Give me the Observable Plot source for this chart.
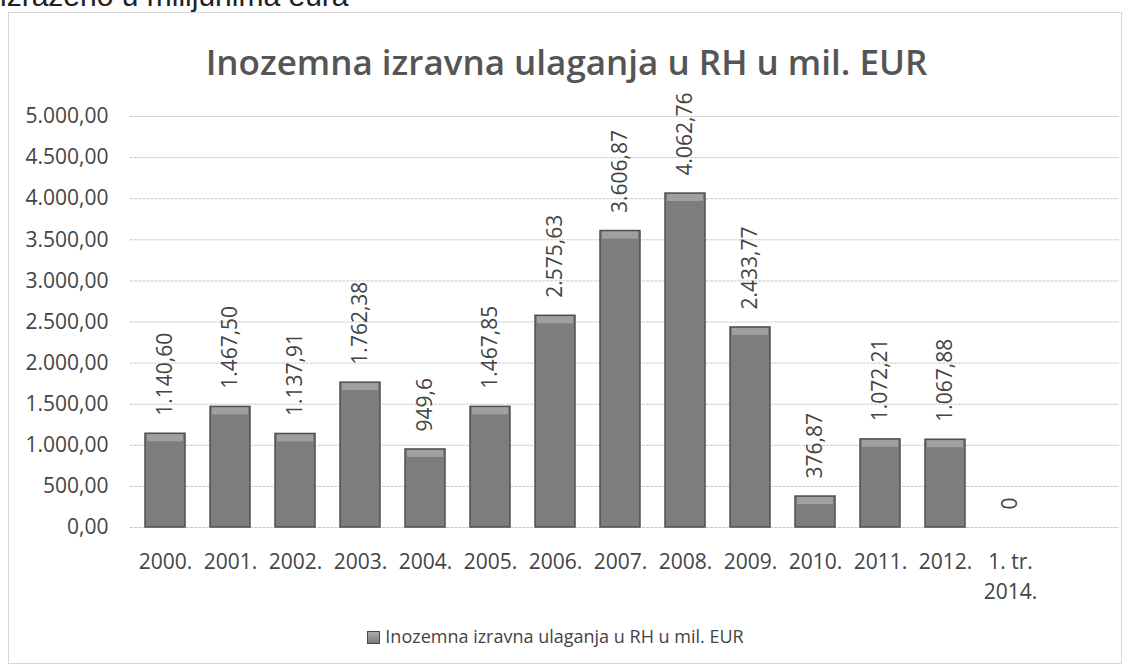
<!DOCTYPE html>
<html>
<head>
<meta charset="utf-8">
<script src="https://cdn.jsdelivr.net/npm/d3@7"></script>
<script src="https://cdn.jsdelivr.net/npm/@observablehq/plot@0.6"></script>
<style>
  html, body { margin: 0; padding: 0; background: #fff; width: 1133px; height: 671px; overflow: hidden; }
  body { position: relative; font-family: "Open Sans", Lato, sans-serif; }
  #top { position: absolute; left: 0; top: -19px; font: 30px "Liberation Sans", Arial, sans-serif; line-height: 1; color: #222; white-space: nowrap; }
  #box { position: absolute; left: 8px; top: 12px; width: 1114px; height: 652px; border: 1px solid #d6d6d6; box-sizing: border-box; }
  #title { position: absolute; left: 0; width: 1133px; top: 44px; text-align: center; font-weight: 600; font-size: 35px; color: #555; line-height: 1; }
  #chart { position: absolute; left: 0; top: 80px; }
  #legend { position: absolute; left: -11px; width: 1133px; top: 624px; text-align: center; font-size: 18px; color: #444; }
  #legend .sw { display: inline-block; width: 11px; height: 11px; background: linear-gradient(#aaa, #7c7c7c); border: 1px solid #4a4a4a; margin-right: 5px; vertical-align: -1px; }
</style>
</head>
<body>
<div id="top">izraženo u milijunima eura</div>
<div id="box"></div>
<div id="title">Inozemna izravna ulaganja u RH u mil. EUR</div>
<div id="chart"></div>
<div id="legend"><span class="sw"></span>Inozemna izravna ulaganja u RH u mil. EUR</div>
<script>
const categories = ["2000.", "2001.", "2002.", "2003.", "2004.", "2005.", "2006.", "2007.", "2008.", "2009.", "2010.", "2011.", "2012.", "1. tr.\n2014."];
const values = [1140.60, 1467.50, 1137.91, 1762.38, 949.6, 1467.85, 2575.63, 3606.87, 4062.76, 2433.77, 376.87, 1072.21, 1067.88, 0];
const valueLabels = ["1.140,60", "1.467,50", "1.137,91", "1.762,38", "949,6", "1.467,85", "2.575,63", "3.606,87", "4.062,76", "2.433,77", "376,87", "1.072,21", "1.067,88", "0"];
const yTicks = [0, 500, 1000, 1500, 2000, 2500, 3000, 3500, 4000, 4500, 5000];
const yTickLabels = ["0,00", "500,00", "1.000,00", "1.500,00", "2.000,00", "2.500,00", "3.000,00", "3.500,00", "4.000,00", "4.500,00", "5.000,00"];

const data = categories.map((c, i) => ({cat: c, value: values[i], label: valueLabels[i]}));
const nonZero = data.filter(d => d.value > 0);

const chart = Plot.plot({
  width: 1133,
  height: 527,
  marginTop: 36,
  marginBottom: 80,
  marginLeft: 130,
  marginRight: 14,
  style: { fontFamily: "'Open Sans', Lato, sans-serif", fontSize: "21px", color: "#444", background: "transparent", overflow: "visible" },
  x: { domain: categories, range: [130.5, 130.5 + 14 * 65.3], paddingInner: 0.39, paddingOuter: 0.195, axis: null },
  y: { domain: [0, 5000], axis: null },
  marks: [
    Plot.ruleY(yTicks, { stroke: "#c8c8c8", strokeWidth: 1, strokeDasharray: "3,1" }),
    Plot.barY(nonZero, { x: "cat", y: "value", fill: "#7d7d7d", stroke: "#505050", strokeWidth: 1.5 }),
    Plot.barY(nonZero, { x: "cat", y1: "value", y2: "value", insetBottom: -8, insetLeft: 2, insetRight: 2, insetTop: 1, fill: "#a0a0a0" }),
    Plot.text(data, { x: "cat", y: "value", text: "label", rotate: -90, textAnchor: "start", dy: -18, fontSize: 21, fill: "#444" }),
    Plot.axisY(yTicks, { tickFormat: (d) => yTickLabels[yTicks.indexOf(d)], tickSize: 0, tickPadding: 0, dx: -22, fontSize: 21, fill: "#444", label: null }),
    Plot.axisX({ tickSize: 0, tickPadding: 21, fontSize: 21, fill: "#444", label: null, lineHeight: 1.4 })
  ]
});
document.getElementById("chart").appendChild(chart);
</script>
</body>
</html>
